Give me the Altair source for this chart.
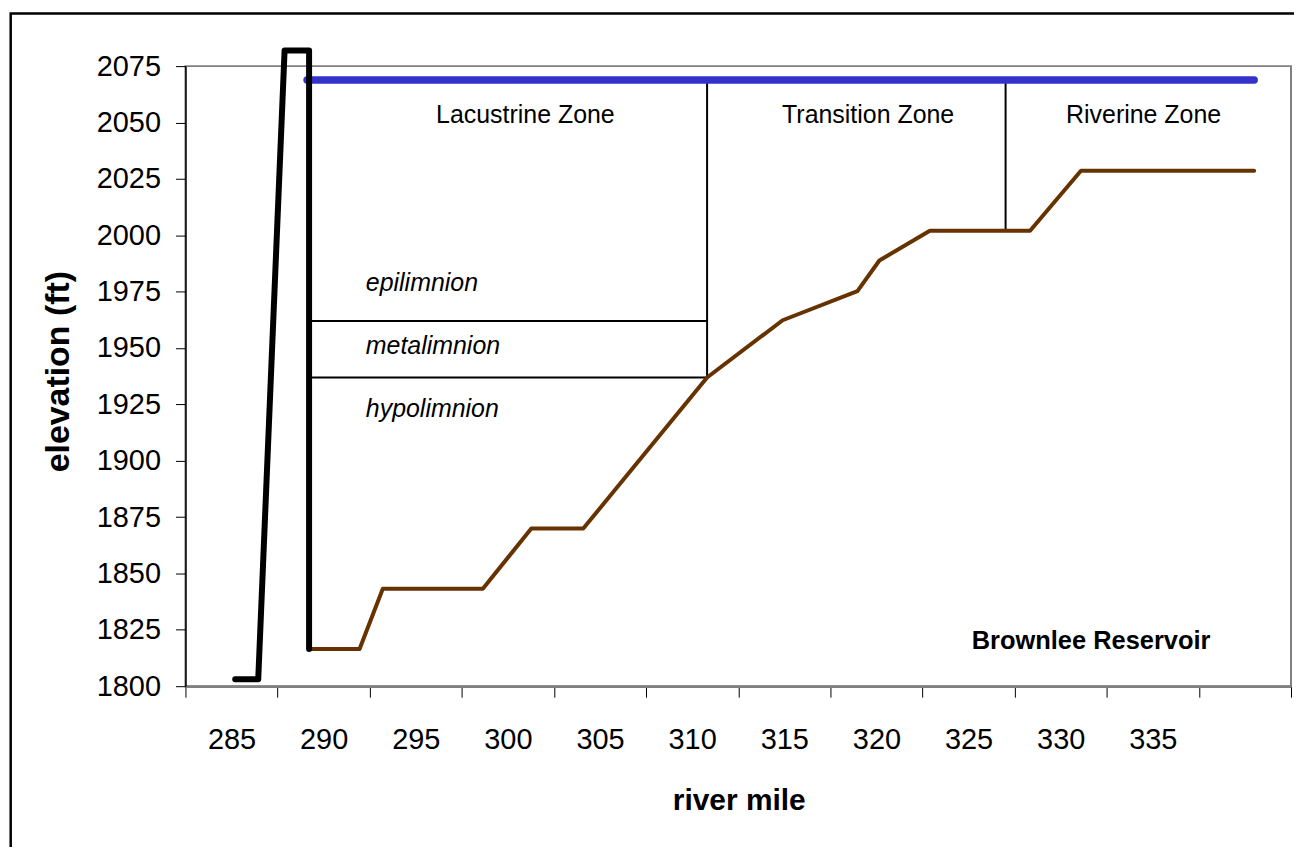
import altair as alt
import pandas as pd

# ---- data ----
dam_mile = [285.2, 286.45, 287.88, 289.21, 289.21]
dam_elev = [1803.1, 1803.1, 2081.9, 2081.9, 1816.5]

bed_mile = [289.21, 291.95, 293.21, 298.64, 301.27, 304.09, 310.81, 314.91,
            318.97, 320.16, 322.9, 328.34, 331.1, 340.5]
bed_elev = [1816.5, 1816.5, 1843.2, 1843.2, 1869.9, 1869.9, 1936.9, 1962.3,
            1975.2, 1988.8, 2002.0, 2002.0, 2028.6, 2028.6]

surface_mile = [289.1, 340.5]
surface_elev = [2068.8, 2068.8]

# zone / layer boundary segments
seg_x = [289.21, 289.21, 310.81, 327.01]
seg_x2 = [310.81, 310.81, 310.81, 327.01]
seg_y = [1962.0, 1936.9, 2068.8, 2068.8]
seg_y2 = [1962.0, 1936.9, 1936.9, 2002.0]

zone_names = ["Lacustrine Zone", "Transition Zone", "Riverine Zone"]
zone_mile = [300.95, 319.55, 334.5]
zone_elev = [2049.8, 2049.8, 2049.8]

layer_names = ["epilimnion", "metalimnion", "hypolimnion"]
layer_mile = [292.29, 292.29, 292.29]
layer_elev = [1975.3, 1947.2, 1919.5]

title_text = ["Brownlee Reservoir"]
title_mile = [331.65]
title_elev = [1816.4]

x_ticks = [282.5 + 5 * i for i in range(13)]
y_ticks = [1800 + 25 * i for i in range(12)]

FONT = "Liberation Sans"

xs = alt.Scale(domain=[282.5, 342.5], nice=False, zero=False)
ys = alt.Scale(domain=[1800, 2075], nice=False, zero=False)

dam = pd.DataFrame({"mile": dam_mile, "elev": dam_elev, "i": range(len(dam_mile))})
bed = pd.DataFrame({"mile": bed_mile, "elev": bed_elev, "i": range(len(bed_mile))})
surf = pd.DataFrame({"mile": surface_mile, "elev": surface_elev, "i": range(len(surface_mile))})
segs = pd.DataFrame({"x": seg_x, "x2": seg_x2, "y": seg_y, "y2": seg_y2})
zones = pd.DataFrame({"t": zone_names, "mile": zone_mile, "elev": zone_elev})
layers = pd.DataFrame({"t": layer_names, "mile": layer_mile, "elev": layer_elev})
ttl = pd.DataFrame({"t": title_text, "mile": title_mile, "elev": title_elev})

x_axis = alt.Axis(
    values=x_ticks, title="river mile", grid=False,
    tickSize=11, tickColor="black", tickWidth=1,
    domainColor="#808080", domainWidth=2.5,
    labelExpr="datum.value < 336 ? format(datum.value + 2.5, 'd') : ''",
    labelOffset=46.2, labelFlush=False, labelOverlap=False, labelBound=False,
    labelFont=FONT, labelFontSize=29, labelColor="black",
    labelBaseline="alphabetic", labelPadding=52,
    titleFont=FONT, titleFontSize=30, titleFontWeight="bold", titleColor="black",
    titleBaseline="alphabetic", titleY=124, titleX=555, titleAlign="center",
)
y_axis = alt.Axis(
    values=y_ticks, title="elevation (ft)", grid=False, format="d",
    tickSize=10, tickColor="black", tickWidth=1,
    domainColor="black", domainWidth=1.5,
    labelFont=FONT, labelFontSize=29, labelColor="black", labelPadding=15,
    labelOverlap=False, labelFlush=False, labelBound=False,
    titleFont=FONT, titleFontSize=34, titleFontWeight="bold", titleColor="black",
    titleAngle=-90, titleBaseline="alphabetic", titleAlign="center",
    titleX=-117.5, titleY=306,
)

base_x = alt.X("mile:Q", scale=xs, axis=x_axis)
base_y = alt.Y("elev:Q", scale=ys, axis=y_axis)

frame = alt.Chart(pd.DataFrame({"a": [0]})).mark_rect(
    fill="white", fillOpacity=0, stroke="black", strokeWidth=2.5
).encode(
    x=alt.value(-175.3), x2=alt.value(2000), y=alt.value(-52.8), y2=alt.value(2000)
)

seg_layer = alt.Chart(segs).mark_rule(color="black", strokeWidth=2).encode(
    x=alt.X("x:Q", scale=xs), x2="x2:Q",
    y=alt.Y("y:Q", scale=ys), y2="y2:Q",
)

bed_layer = alt.Chart(bed).mark_line(
    color="#663300", strokeWidth=4, strokeJoin="round", strokeCap="round"
).encode(x=base_x, y=base_y, order="i:Q")

surf_layer = alt.Chart(surf).mark_line(
    color="#3333CC", strokeWidth=7.5, strokeCap="round"
).encode(x=base_x, y=base_y, order="i:Q")

dam_layer = alt.Chart(dam).mark_line(
    color="black", strokeWidth=6, strokeJoin="round", strokeCap="round", clip=False
).encode(x=base_x, y=base_y, order="i:Q")

zone_text = alt.Chart(zones).mark_text(
    font=FONT, fontSize=25, align="center", baseline="alphabetic", color="black"
).encode(x=alt.X("mile:Q", scale=xs), y=alt.Y("elev:Q", scale=ys), text="t:N")

layer_text = alt.Chart(layers).mark_text(
    font=FONT, fontSize=25, fontStyle="italic", align="left", baseline="alphabetic", color="black"
).encode(x=alt.X("mile:Q", scale=xs), y=alt.Y("elev:Q", scale=ys), text="t:N")

title_txt = alt.Chart(ttl).mark_text(
    font=FONT, fontSize=25.5, fontWeight="bold", align="center", baseline="alphabetic", color="black"
).encode(x=alt.X("mile:Q", scale=xs), y=alt.Y("elev:Q", scale=ys), text="t:N")

chart = alt.layer(
    frame, seg_layer, bed_layer, surf_layer, dam_layer, zone_text, layer_text, title_txt
).properties(
    width=1109, height=622,
    autosize=alt.AutoSizeParams(type="none"),
    padding={"left": 178, "top": 57, "right": 3, "bottom": 160},
    background="white",
).configure_view(
    stroke="#808080", strokeWidth=2
)

chart.save("out.html", embed_options={"renderer": "svg", "actions": False})
